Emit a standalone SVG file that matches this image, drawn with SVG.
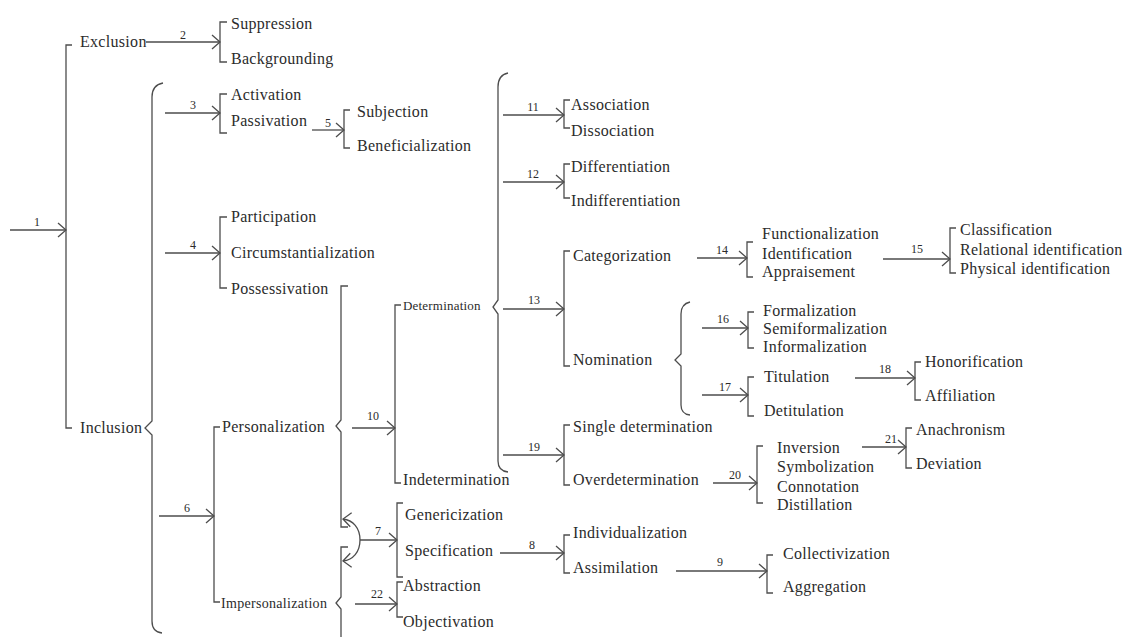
<svg xmlns="http://www.w3.org/2000/svg" width="1129" height="637" viewBox="0 0 1129 637">
<defs>
<style>
.t{font-family:'Liberation Serif','DejaVu Serif','Noto Serif',serif;font-size:16px;letter-spacing:0.3px;fill:#2b2b2b}
.s{font-size:13px;letter-spacing:0.2px}
.m{font-size:14px}
.n{font-family:'Liberation Serif','DejaVu Serif',serif;font-size:12px;fill:#2b2b2b;text-anchor:middle}
.c{fill:none;stroke:#4d4d4d;stroke-width:1.3}
.a{fill:none;stroke:#4d4d4d;stroke-width:1.3;marker-end:url(#ah)}
</style>
<marker id="ah" markerUnits="userSpaceOnUse" viewBox="0 0 12 16" markerWidth="12" markerHeight="16" refX="9" refY="8" orient="auto">
<path d="M1,1 L9,8 L1,15" fill="none" stroke="#4d4d4d" stroke-width="1.3"/>
</marker>
</defs>
<rect width="1129" height="637" fill="#fff"/>
<g id="connectors">
<path class="a" d="M10,230 H66"/>
<path class="a" d="M146,42 H220"/>
<path class="a" d="M165,113 H220"/>
<path class="a" d="M312,130 H344"/>
<path class="a" d="M165,253 H220"/>
<path class="a" d="M159,516 H214"/>
<path class="a" d="M352,428 H395"/>
<path class="a" d="M360,540 H397"/>
<path class="a" d="M360,540 C360,528 353,520 343,519"/>
<path class="a" d="M360,540 C360,552 353,560 343,561"/>
<path class="a" d="M355,604 H397"/>
<path class="a" d="M503,115 H564"/>
<path class="a" d="M503,182 H564"/>
<path class="a" d="M503,309 H564"/>
<path class="a" d="M503,455 H564"/>
<path class="a" d="M500,553 H564"/>
<path class="a" d="M676,571 H767"/>
<path class="a" d="M697,258 H747"/>
<path class="a" d="M883,259 H950"/>
<path class="a" d="M702,328 H748"/>
<path class="a" d="M702,395 H748"/>
<path class="a" d="M855,378 H915"/>
<path class="a" d="M713,483 H757"/>
<path class="a" d="M862,447 H906"/>
<path class="c" d="M72,45 H66 V428 H72"/>
<path class="c" d="M227,22 H220 V62 H227"/>
<path class="c" d="M227,94 H220 V133 H227"/>
<path class="c" d="M350,110 H344 V148 H350"/>
<path class="c" d="M227,217 H220 V288 H227"/>
<path class="c" d="M220,427 H214 V602 H220"/>
<path class="c" d="M401,305 H395 V483 H401"/>
<path class="c" d="M403,503 H397 V577 H403"/>
<path class="c" d="M403,582 H397 V617 H403"/>
<path class="c" d="M570,100 H564 V128 H570"/>
<path class="c" d="M570,164 H564 V198 H570"/>
<path class="c" d="M570,251 H564 V366 H570"/>
<path class="c" d="M570,425 H564 V485 H570"/>
<path class="c" d="M570,535 H564 V573 H570"/>
<path class="c" d="M773,555 H767 V593 H773"/>
<path class="c" d="M753,242 H747 V277 H753"/>
<path class="c" d="M956,228 H950 V273 H956"/>
<path class="c" d="M754,312 H748 V348 H754"/>
<path class="c" d="M754,377 H748 V416 H754"/>
<path class="c" d="M921,362 H915 V400 H921"/>
<path class="c" d="M763,446 H757 V503 H763"/>
<path class="c" d="M912,428 H906 V468 H912"/>
<path class="c" d="M163,83 Q152,85 152,97 V421 L145,428 L152,435 V621 Q152,632 162,633"/>
<path class="c" d="M348,286 H341 V420 L336,426 L341,432 V527 H348"/>
<path class="c" d="M348,547 H341 V597 L336,603 L341,609 V637"/>
<path class="c" d="M508,73 Q498,75 498,87 V300 L493,307 L498,314 V461 Q498,471 508,472"/>
<path class="c" d="M690,302 Q681,304 681,314 V354 L675,360 L681,366 V405 Q681,414 690,415"/>
<text class="n" x="37" y="226">1</text>
<text class="n" x="183" y="39">2</text>
<text class="n" x="193" y="109">3</text>
<text class="n" x="328" y="127">5</text>
<text class="n" x="193" y="249">4</text>
<text class="n" x="187" y="512">6</text>
<text class="n" x="373" y="420">10</text>
<text class="n" x="378" y="535">7</text>
<text class="n" x="377" y="598">22</text>
<text class="n" x="533" y="111">11</text>
<text class="n" x="533" y="178">12</text>
<text class="n" x="534" y="304">13</text>
<text class="n" x="534" y="451">19</text>
<text class="n" x="532" y="549">8</text>
<text class="n" x="720" y="566">9</text>
<text class="n" x="722" y="254">14</text>
<text class="n" x="917" y="253">15</text>
<text class="n" x="723" y="323">16</text>
<text class="n" x="725" y="391">17</text>
<text class="n" x="885" y="373">18</text>
<text class="n" x="735" y="479">20</text>
<text class="n" x="891" y="443">21</text>
</g>
<g id="exclusion"><text class="t" x="80" y="47">Exclusion</text></g>
<g id="inclusion"><text class="t" x="80" y="433">Inclusion</text></g>
<g id="suppression"><text class="t" x="231" y="29">Suppression</text></g>
<g id="backgrounding"><text class="t" x="231" y="64">Backgrounding</text></g>
<g id="activation"><text class="t" x="231" y="100">Activation</text></g>
<g id="passivation"><text class="t" x="231" y="126">Passivation</text></g>
<g id="subjection"><text class="t" x="357" y="117">Subjection</text></g>
<g id="beneficialization"><text class="t" x="357" y="151">Beneficialization</text></g>
<g id="participation"><text class="t" x="231" y="222">Participation</text></g>
<g id="circumstantialization"><text class="t" x="231" y="258">Circumstantialization</text></g>
<g id="possessivation"><text class="t" x="231" y="294">Possessivation</text></g>
<g id="personalization"><text class="t" x="222" y="432">Personalization</text></g>
<g id="impersonalization"><text class="t m" x="221" y="608">Impersonalization</text></g>
<g id="determination"><text class="t s" x="403" y="310">Determination</text></g>
<g id="indetermination"><text class="t" x="403" y="485">Indetermination</text></g>
<g id="genericization"><text class="t" x="405" y="520">Genericization</text></g>
<g id="specification"><text class="t" x="405" y="556">Specification</text></g>
<g id="abstraction"><text class="t" x="403" y="591">Abstraction</text></g>
<g id="objectivation"><text class="t" x="403" y="627">Objectivation</text></g>
<g id="association"><text class="t" x="571" y="110">Association</text></g>
<g id="dissociation"><text class="t" x="571" y="136">Dissociation</text></g>
<g id="differentiation"><text class="t" x="571" y="172">Differentiation</text></g>
<g id="indifferentiation"><text class="t" x="571" y="206">Indifferentiation</text></g>
<g id="categorization"><text class="t" x="573" y="261">Categorization</text></g>
<g id="nomination"><text class="t" x="573" y="365">Nomination</text></g>
<g id="single-determination"><text class="t" x="573" y="432">Single determination</text></g>
<g id="overdetermination"><text class="t" x="573" y="485">Overdetermination</text></g>
<g id="individualization"><text class="t" x="573" y="538">Individualization</text></g>
<g id="assimilation"><text class="t" x="573" y="573">Assimilation</text></g>
<g id="collectivization"><text class="t" x="783" y="559">Collectivization</text></g>
<g id="aggregation"><text class="t" x="783" y="592">Aggregation</text></g>
<g id="functionalization"><text class="t" x="762" y="239">Functionalization</text></g>
<g id="identification"><text class="t" x="762" y="259">Identification</text></g>
<g id="appraisement"><text class="t" x="762" y="277">Appraisement</text></g>
<g id="classification"><text class="t" x="960" y="235">Classification</text></g>
<g id="relational-identification"><text class="t" x="960" y="255">Relational identification</text></g>
<g id="physical-identification"><text class="t" x="960" y="274">Physical identification</text></g>
<g id="formalization"><text class="t" x="763" y="316">Formalization</text></g>
<g id="semiformalization"><text class="t" x="763" y="334">Semiformalization</text></g>
<g id="informalization"><text class="t" x="763" y="352">Informalization</text></g>
<g id="titulation"><text class="t" x="764" y="382">Titulation</text></g>
<g id="detitulation"><text class="t" x="764" y="416">Detitulation</text></g>
<g id="honorification"><text class="t" x="925" y="367">Honorification</text></g>
<g id="affiliation"><text class="t" x="925" y="401">Affiliation</text></g>
<g id="inversion"><text class="t" x="777" y="453">Inversion</text></g>
<g id="symbolization"><text class="t" x="777" y="472">Symbolization</text></g>
<g id="connotation"><text class="t" x="777" y="492">Connotation</text></g>
<g id="distillation"><text class="t" x="777" y="510">Distillation</text></g>
<g id="anachronism"><text class="t" x="916" y="435">Anachronism</text></g>
<g id="deviation"><text class="t" x="916" y="469">Deviation</text></g>
</svg>
